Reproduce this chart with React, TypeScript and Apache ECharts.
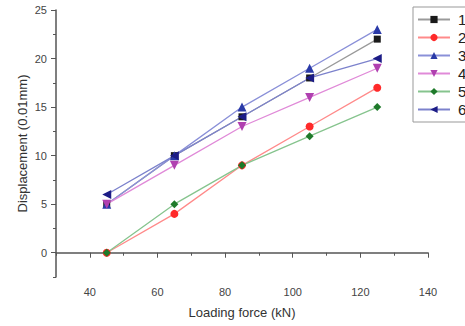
import React, { useEffect, useRef } from "react";
import * as echarts from "echarts";

const xValues = [45, 65, 85, 105, 125];
const seriesNames = ["1", "2", "3", "4", "5", "6"];
const s1 = [5, 10, 14, 18, 22];
const s2 = [0, 4, 9, 13, 17];
const s3 = [5, 10, 15, 19, 23];
const s4 = [5, 9, 13, 16, 19];
const s5 = [0, 5, 9, 12, 15];
const s6 = [6, 10, 14, 18, 20];
const xMajorTicks = [40, 60, 80, 100, 120, 140];
const xMinorTicks = [30, 50, 70, 90, 110, 130];
const yMajorTicks = [0, 5, 10, 15, 20, 25];
const yMinorTicks = [-2.5, 2.5, 7.5, 12.5, 17.5, 22.5];

const markerColors = ["#1a1a1a", "#ff2a2a", "#2a3aa8", "#b040b0", "#1e7a2a", "#1c1c86"];
const lineColors = ["#9a9a9a", "#ff8a8a", "#8a90d8", "#e08ad8", "#86c48e", "#7c82cc"];
const symbols = ["rect", "circle", "triangle", "path://M0,0 L10,0 L5,9 Z", "diamond", "path://M0,5 L9,0 L9,10 Z"];
const symbolSizes = [7, 8, 9, 9, 8, 9];

export default function App() {
  const ref = useRef<HTMLDivElement>(null);
  useEffect(() => {
    if (!ref.current) return;
    const chart = echarts.init(ref.current, null, { renderer: "svg" });
    const all = [s1, s2, s3, s4, s5, s6];
    const axisColor = "#555";
    const labelColor = "#444";
    const font = "Liberation Sans, Arial, sans-serif";
    chart.setOption({
      animation: false,
      backgroundColor: "#fff",
      grid: { left: 56, right: 37, top: 10, bottom: 49 },
      legend: {
        orient: "vertical",
        left: 413,
        top: 7,
        data: seriesNames,
        itemWidth: 32,
        itemHeight: 9,
        itemGap: 3,
        borderColor: "#999",
        borderWidth: 1,
        padding: [5, 20, 5, 4],
        textStyle: { fontSize: 15, color: "#222", fontFamily: font, lineHeight: 14.8, padding: [0, 0, 0, 3] },
      },
      xAxis: [
        {
          type: "value",
          min: 30,
          max: 140,
          name: "Loading force (kN)",
          nameLocation: "middle",
          nameGap: 29,
          nameMoveOverlap: false,
          nameTextStyle: { fontSize: 13, color: "#333", fontFamily: font },
          splitLine: { show: false },
          axisLine: { lineStyle: { color: axisColor, width: 1.5 } },
          axisTick: { customValues: xMajorTicks, length: 5, lineStyle: { color: axisColor } },
          axisLabel: { customValues: xMajorTicks, fontSize: 11, color: labelColor, fontFamily: font, margin: 9 },
        },
        {
          type: "value",
          min: 30,
          max: 140,
          position: "bottom",
          splitLine: { show: false },
          axisLine: { show: false },
          axisTick: { customValues: xMinorTicks, length: 3, lineStyle: { color: axisColor } },
          axisLabel: { show: false },
        },
      ],
      yAxis: [
        {
          type: "value",
          min: -2.5,
          max: 25,
          name: "Displacement (0.01mm)",
          nameLocation: "middle",
          nameGap: 27,
          nameMoveOverlap: false,
          nameTextStyle: { fontSize: 13, color: "#333", fontFamily: font },
          splitLine: { show: false },
          axisLine: { show: true, lineStyle: { color: axisColor, width: 1.5 } },
          axisTick: { show: true, customValues: yMajorTicks, length: 5, lineStyle: { color: axisColor } },
          axisLabel: { customValues: yMajorTicks, fontSize: 11, color: labelColor, fontFamily: font, margin: 9 },
        },
        {
          type: "value",
          min: -2.5,
          max: 25,
          position: "left",
          splitLine: { show: false },
          axisLine: { show: false },
          axisTick: { show: true, customValues: yMinorTicks, length: 3, lineStyle: { color: axisColor } },
          axisLabel: { show: false },
        },
      ],
      series: all.map((d, i) => ({
        name: seriesNames[i],
        type: "line",
        xAxisIndex: 0,
        yAxisIndex: 0,
        data: d.map((v, j) => [xValues[j], v]),
        symbol: symbols[i],
        symbolSize: symbolSizes[i],
        lineStyle: { color: lineColors[i], width: 1.3 },
        itemStyle: { color: markerColors[i] },
        emphasis: { disabled: true },
      })),
    });
    return () => chart.dispose();
  }, []);
  return <div ref={ref} style={{ width: 465, height: 326, position: "absolute", left: 0, top: 0 }} />;
}
